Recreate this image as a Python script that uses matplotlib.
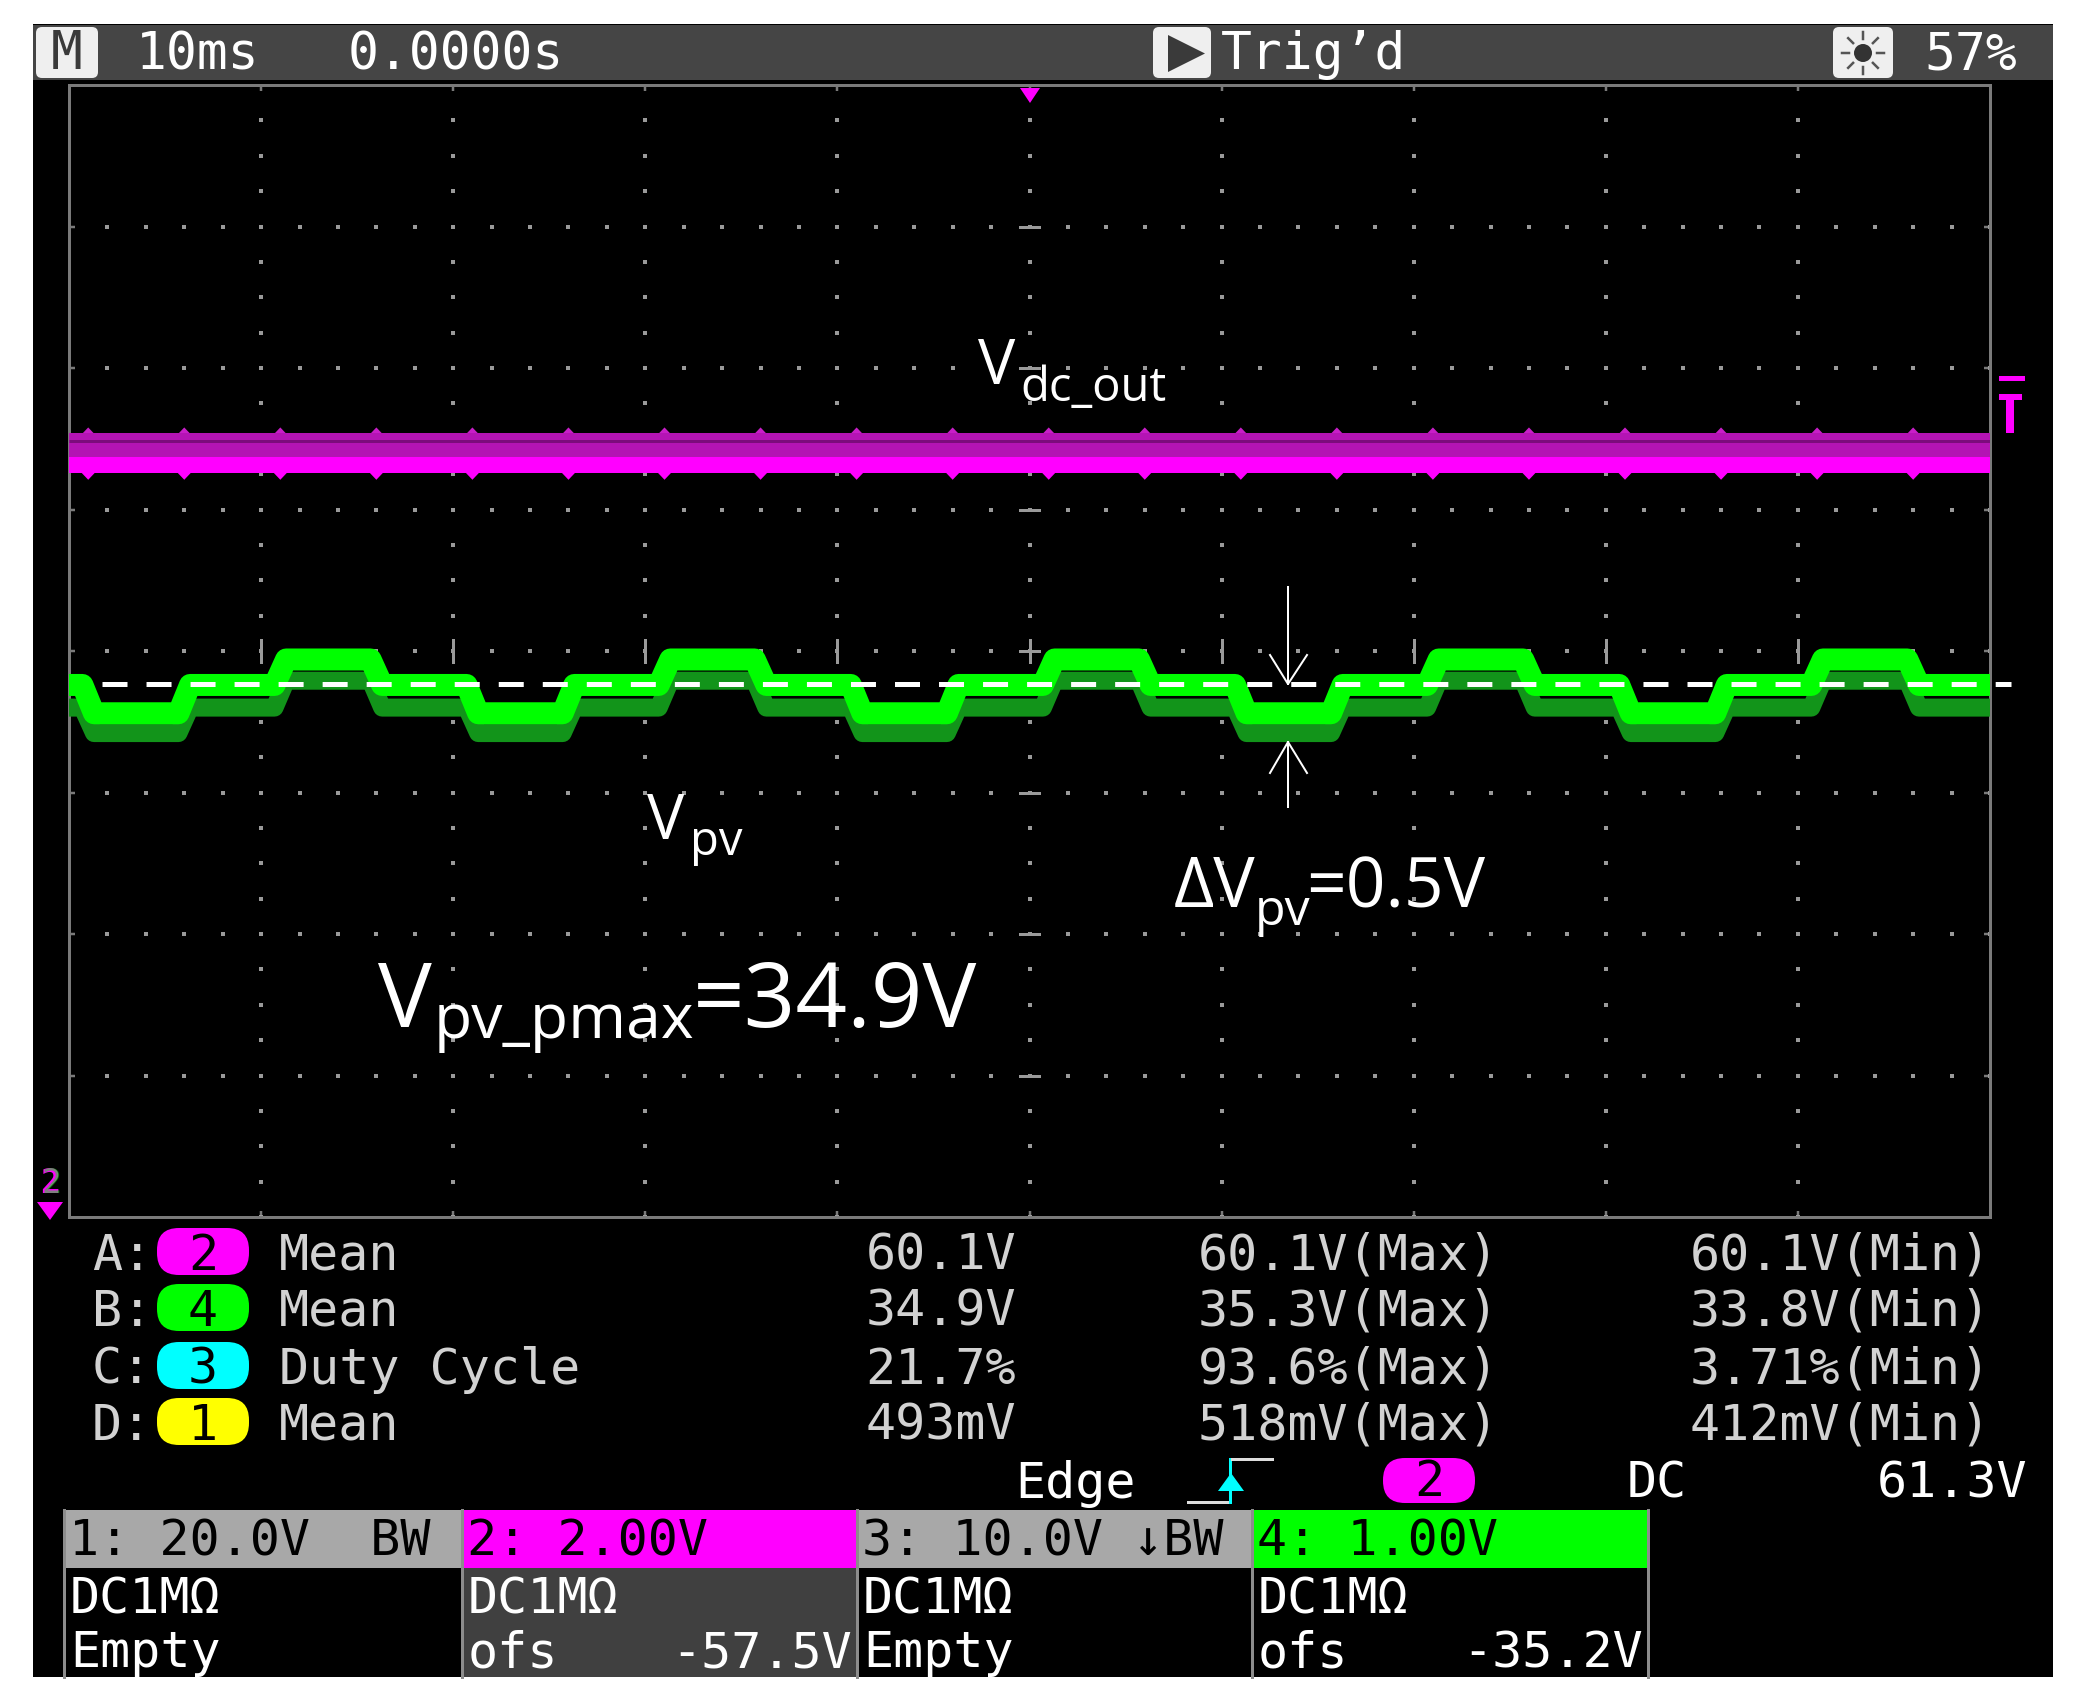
import numpy as np
import matplotlib
matplotlib.use('Agg')
import matplotlib.pyplot as plt
from matplotlib.patches import Rectangle, FancyBboxPatch, Polygon, Circle

# ------------------------------------------------------------------ data
x_range_ms = (-50, 50)           # 10 ms/div, 10 divisions
ch2_scale, ch2_offset = 2.00, 57.5   # V/div, offset (Vdc_out, magenta)
ch4_scale, ch4_offset = 1.00, 35.2   # V/div, offset (Vpv, green)

# Vpv staircase: edge times (ms) and plateau states
green_edges_ms = [-49, -44, -39, -34, -29, -24, -19, -14, -9, -4,
                  1, 6, 11, 16, 21, 26, 31, 36, 41, 46]
green_states = ['M', 'L', 'M', 'H', 'M', 'L', 'M', 'H', 'M', 'L', 'M',
                'H', 'M', 'L', 'M', 'H', 'M', 'L', 'M', 'H', 'M']
vpv_core_V = {'H': 35.14, 'M': 34.96, 'L': 34.76}
vpv_shadow_V = {'H': 34.99, 'M': 34.80, 'L': 34.62}
vpv_mean_line_V = 34.97
edge_width_ms = 0.6

# Vdc_out (magenta)
vdc_core_V = 60.13
vdc_shadow_V = 60.41
vdc_dip_V = (60.02, 59.92)     # downward spike: from, to
vdc_peak_V = (60.56, 60.66)    # upward spike: from, to

# measurement table
meas_letters = ['A', 'B', 'C', 'D']
meas_channels = ['2', '4', '3', '1']
meas_items = ['Mean', 'Mean', 'Duty Cycle', 'Mean']
meas_values = ['60.1V', '34.9V', '21.7%', '493mV']
meas_max = ['60.1V', '35.3V', '93.6%', '518mV']
meas_min = ['60.1V', '33.8V', '3.71%', '412mV']

# channel boxes
box_headers = ['1: 20.0V  BW', '2: 2.00V', '3: 10.0V ↓BW', '4: 1.00V']
box_line1 = ['DC1MΩ', 'DC1MΩ', 'DC1MΩ', 'DC1MΩ']
box_line2_left = ['Empty', 'ofs', 'Empty', 'ofs']
box_line2_right = ['', '-57.5V', '', '-35.2V']

# status bar / trigger
timebase_label = '10ms'
delay_label = '0.0000s'
trig_label = 'Trig’d'
brightness_label = '57%'
trig_type = 'Edge'
trig_source = '2'
trig_coupling = 'DC'
trig_level = '61.3V'

# ------------------------------------------------------------------ style
W, H = 2081, 1702
MONO = ['DejaVu Sans Mono']
SANS = ['Open Sans', 'DejaVu Sans']
MAG = '#ff00ff'
GRN = '#00ff00'
CYA = '#00ffff'
YEL = '#ffff00'
badge_colors = {'2': MAG, '4': GRN, '3': CYA, '1': YEL}
header_colors = ['#a8a8a8', MAG, '#a8a8a8', GRN]
body_colors = ['#000000', '#404040', '#000000', '#000000']
box_x = [64, 462, 857, 1252, 1648]
PX = 0.72  # points per pixel at dpi 100

plt.rcParams['lines.scale_dashes'] = False

fig = plt.figure(figsize=(W / 100, H / 100), dpi=100, facecolor='white')

bg = fig.add_axes([0, 0, 1, 1], zorder=0)
bg.set_xlim(0, W)
bg.set_ylim(H, 0)
bg.axis('off')

fg = fig.add_axes([0, 0, 1, 1], zorder=5)
fg.set_xlim(0, W)
fg.set_ylim(H, 0)
fg.axis('off')


def mtext(axx, x, y, s, color='#d2d2d2', ha='left', size=36, **kw):
    axx.text(x, y, s, color=color, ha=ha, va='baseline', fontsize=size,
             family=MONO, **kw)


# screen background and status bar
bg.add_patch(Rectangle((33, 24), 2020, 1653, color='black', lw=0))
bg.add_patch(Rectangle((33, 25), 2020, 55, color='#454545', lw=0))
bg.add_patch(FancyBboxPatch((36, 27), 62, 51, boxstyle='round,pad=0,rounding_size=6',
                            fc='#efefef', ec='none'))
mtext(bg, 67, 69, 'M', color='#3a3a3a', ha='center', size=38)
mtext(bg, 136, 69, timebase_label, color='white', size=37)
mtext(bg, 348, 69, delay_label, color='white', size=37)
bg.add_patch(FancyBboxPatch((1153, 27), 58, 51, boxstyle='round,pad=0,rounding_size=6',
                            fc='#efefef', ec='none'))
bg.add_patch(Polygon([(1168, 35), (1168, 72), (1205, 53.5)], closed=True,
                     fc='#3a3a3a', ec='none'))
mtext(bg, 1221, 69, trig_label, color='white', size=37)
bg.add_patch(FancyBboxPatch((1833, 27), 60, 51, boxstyle='round,pad=0,rounding_size=6',
                            fc='#efefef', ec='none'))
bg.add_patch(Circle((1863, 53), 9, fc='#333333', ec='none'))
for ang in np.deg2rad(np.arange(0, 360, 45)):
    bg.plot([1863 + 14 * np.cos(ang), 1863 + 21 * np.cos(ang)],
            [53 + 14 * np.sin(ang), 53 + 21 * np.sin(ang)],
            color='#555555', lw=2.5 * PX)
mtext(bg, 1924, 69, brightness_label, color='white', size=37)

# measurement table
row_base = [1270, 1326, 1384, 1440]
for i in range(4):
    yb = row_base[i]
    mtext(bg, 92, yb, meas_letters[i] + ':')
    bg.add_patch(FancyBboxPatch((157, yb - 42), 92, 47,
                                boxstyle='round,pad=0,rounding_size=22',
                                fc=badge_colors[meas_channels[i]], ec='none'))
    mtext(bg, 203, yb, meas_channels[i], color='black', ha='center')
    mtext(bg, 279, yb, meas_items[i])
    mtext(bg, 1016, yb, meas_values[i], ha='right')
    mtext(bg, 1499, yb, meas_max[i] + '(Max)', ha='right')
    mtext(bg, 1991, yb, meas_min[i] + '(Min)', ha='right')

# trigger row
mtext(bg, 1015, 1498, trig_type, color='white')
bg.plot([1188, 1230], [1502, 1502], color='#dddddd', lw=3 * PX)
bg.plot([1230, 1230], [1502, 1459], color=CYA, lw=3 * PX)
bg.plot([1232, 1272], [1459, 1459], color='#dddddd', lw=3 * PX)
bg.add_patch(Polygon([(1218, 1491), (1244, 1491), (1231, 1473)], closed=True,
                     fc=CYA, ec='none'))
bg.add_patch(FancyBboxPatch((1383, 1458), 92, 45, boxstyle='round,pad=0,rounding_size=22',
                            fc=MAG, ec='none'))
mtext(bg, 1429, 1496, trig_source, color='black', ha='center')
mtext(bg, 1627, 1498, trig_coupling, color='white')
mtext(bg, 2027, 1498, trig_level, color='white', ha='right')

# channel boxes
for i in range(4):
    x0, x1 = box_x[i], box_x[i + 1]
    bg.add_patch(Rectangle((x0, 1510), x1 - x0, 58, color=header_colors[i], lw=0))
    bg.add_patch(Rectangle((x0, 1568), x1 - x0, 109, color=body_colors[i], lw=0))
    mtext(bg, x0 + 5, 1555, box_headers[i], color='black')
    mtext(bg, x0 + 6, 1613, box_line1[i], color='white')
    mtext(bg, x0 + 6, 1667, box_line2_left[i], color='white')
    if box_line2_right[i]:
        mtext(bg, x1 - 5, 1667, box_line2_right[i], color='white', ha='right')
for xb in box_x:
    bg.plot([xb, xb], [1510, 1677], color='#8c8c8c', lw=3 * PX)

# ------------------------------------------------------------------ scope grid
L, T, R, B = 69, 85, 1990, 1217
pos = [L / W, 1 - B / H, (R - L) / W, (B - T) / H]
ax = fig.add_axes(pos, zorder=2)
ax.set_facecolor('black')
ax.set_xlim(*x_range_ms)
ax.set_ylim(-4, 4)
for sp in ax.spines.values():
    sp.set_color('#7a7a7a')
    sp.set_linewidth(3 * PX)
major_x = np.arange(-40, 41, 10)
major_y = np.arange(-3, 4, 1)
ax.set_xticks(major_x)
ax.set_yticks(major_y)
ax.tick_params(direction='in', length=6 * PX, width=2.5 * PX, color='#7a7a7a',
               top=True, right=True, labelbottom=False, labelleft=False)
dot_kw = dict(ls='none', marker='s', ms=3.4 * PX, mew=0, color='#9a9a9a')
ydots = np.arange(-4, 4.01, 0.25)
xdots = np.arange(-50, 50.01, 2)
for xm in major_x:
    ax.plot(np.full_like(ydots, xm), ydots, **dot_kw)
for ym in major_y:
    ax.plot(xdots, np.full_like(xdots, ym), **dot_kw)
for xm in major_x:
    ax.plot([xm, xm], [-0.075, 0.075], color='#9a9a9a', lw=3 * PX)
for ym in major_y:
    ax.plot([-0.5, 0.5], [ym, ym], color='#9a9a9a', lw=3 * PX)

# channel axes share the screen position
ax2 = fig.add_axes(pos, zorder=3)
ax2.set_xlim(*x_range_ms)
ax2.set_ylim(ch2_offset - 4 * ch2_scale, ch2_offset + 4 * ch2_scale)
ax2.axis('off')
ax4 = fig.add_axes(pos, zorder=4)
ax4.set_xlim(*x_range_ms)
ax4.set_ylim(ch4_offset - 4 * ch4_scale, ch4_offset + 4 * ch4_scale)
ax4.axis('off')


def staircase(levels):
    t = [x_range_ms[0]]
    v = [levels[green_states[0]]]
    for i, e in enumerate(green_edges_ms):
        t += [e - edge_width_ms / 2, e + edge_width_ms / 2]
        v += [levels[green_states[i]], levels[green_states[i + 1]]]
    t.append(x_range_ms[1])
    v.append(levels[green_states[-1]])
    return t, v


ts, vs = staircase(vpv_shadow_V)
ax4.plot(ts, vs, color='#12941a', lw=18 * PX, solid_joinstyle='round')
tc, vc = staircase(vpv_core_V)
ax4.plot(tc, vc, color=GRN, lw=22 * PX, solid_joinstyle='round')

# Vdc_out band
ax2.plot(x_range_ms, [vdc_shadow_V, vdc_shadow_V], color='#b414b4', lw=24 * PX,
         solid_capstyle='butt')
ax2.plot(x_range_ms, [vdc_shadow_V + 0.06, vdc_shadow_V + 0.06], color='#7c0c7c',
         lw=3 * PX, solid_capstyle='butt')
ax2.plot(x_range_ms, [vdc_core_V, vdc_core_V], color=MAG, lw=16 * PX,
         solid_capstyle='butt')
for e in green_edges_ms:
    ax2.fill([e - 0.35, e, e + 0.35], [vdc_dip_V[0], vdc_dip_V[1], vdc_dip_V[0]],
             color=MAG, lw=0)
    ax2.fill([e - 0.35, e, e + 0.35], [vdc_peak_V[0], vdc_peak_V[1], vdc_peak_V[0]],
             color='#c81ec8', lw=0)

# dashed mean line
ax4.plot([-48.3, 51.1], [vpv_mean_line_V, vpv_mean_line_V], color='white',
         lw=5 * PX, ls=(0, (18, 13.7)), clip_on=False, zorder=6)

# ------------------------------------------------------------------ markers
fg.add_patch(Polygon([(1020, 88), (1040, 88), (1030, 103)], closed=True, fc=MAG, ec='none'))
fg.add_patch(Rectangle((1999, 376), 26, 5, color=MAG, lw=0))
fg.add_patch(Rectangle((1999, 394), 23, 6, color=MAG, lw=0))
fg.add_patch(Rectangle((2006, 394), 8, 39, color=MAG, lw=0))
fg.text(50, 1193, '2', color=MAG, ha='center', va='baseline', fontsize=24,
        family=MONO, fontweight='bold')
fg.text(52, 1193, '2', color=GRN, ha='center', va='baseline', fontsize=24,
        family=MONO, alpha=0.5)
fg.add_patch(Polygon([(37, 1202), (63, 1202), (50, 1220)], closed=True, fc=MAG, ec='none'))

# arrows for delta V
arr_kw = dict(color='white', lw=2 * PX)
fg.plot([1288, 1288], [587, 684], **arr_kw)
fg.plot([1270, 1288, 1307], [655, 684, 655], **arr_kw)
fg.plot([1288, 1288], [742, 807], **arr_kw)
fg.plot([1270, 1288, 1307], [773, 742, 773], **arr_kw)


def ann(x, y, s, size):
    fg.text(x, y, s, color='white', ha='left', va='baseline', fontsize=size, family=SANS)


ann(978, 384, 'V', 45)
ann(1020, 401, 'dc_out', 34)
ann(647, 839, 'V', 45)
ann(690, 855, 'pv', 34)
ann(1174, 907, 'ΔV', 50)
ann(1255, 925, 'pv', 36)
ann(1306, 907, '=0.5V', 50)
ann(378, 1027, 'V', 65)
ann(434, 1038, 'pv_pmax', 45)
ann(693, 1027, '=34.9V', 65)

fig.savefig('out.png', dpi=100, facecolor='white')
